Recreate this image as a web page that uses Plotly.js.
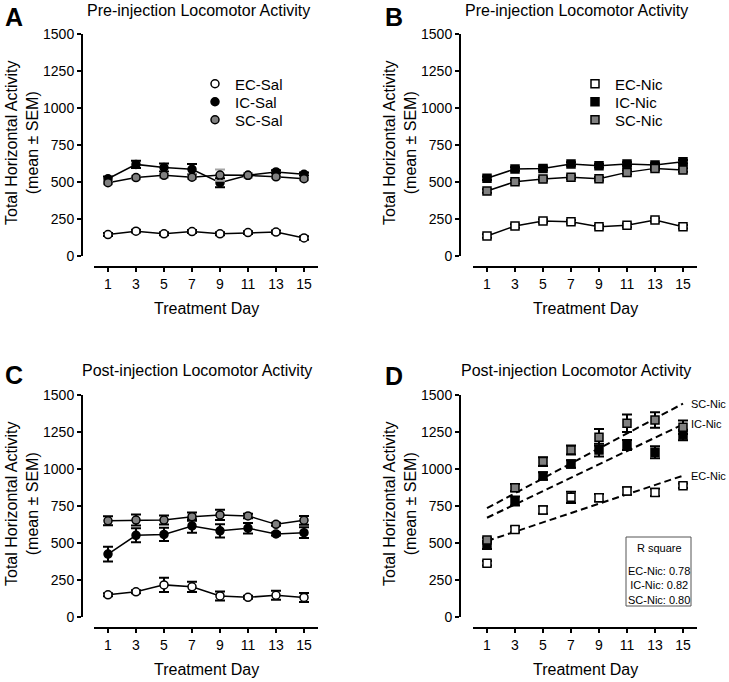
<!DOCTYPE html>
<html>
<head>
<meta charset="utf-8">
<script src="https://cdn.plot.ly/plotly-3.0.1.min.js"></script>
<style>html,body{margin:0;padding:0;background:#fff;}#chart{width:729px;height:682px;}</style>
</head>
<body>
<div id="chart"></div>
<script>
// ---------- data ----------
const days = [1, 3, 5, 7, 9, 11, 13, 15];
const yTicks = [0, 250, 500, 750, 1000, 1250, 1500];

// Panel A: pre-injection, saline groups
const ecSalPre = [145, 168, 150, 165, 150, 158, 162, 122];
const ecSalPreSem = [10, 10, 10, 10, 10, 10, 10, 12];
const icSalPre = [522, 619, 598, 586, 495, 545, 568, 552];
const icSalPreSem = [15, 25, 27, 36, 30, 10, 12, 12];
const scSalPre = [495, 530, 545, 532, 547, 545, 535, 522];
const scSalPreSem = [10, 12, 15, 12, 38, 15, 10, 10];

// Panel B: pre-injection, nicotine groups
const ecNicPre = [135, 203, 236, 232, 198, 207, 243, 198];
const ecNicPreSem = [12, 12, 12, 12, 12, 12, 12, 12];
const icNicPre = [525, 588, 592, 622, 610, 622, 615, 637];
const icNicPreSem = [12, 12, 12, 12, 12, 12, 12, 12];
const scNicPre = [439, 502, 520, 532, 522, 565, 592, 581];
const scNicPreSem = [12, 12, 12, 12, 12, 12, 12, 12];

// Panel C: post-injection, saline groups
const ecSalPost = [150, 170, 217, 204, 142, 133, 147, 132];
const ecSalPostSem = [10, 10, 48, 35, 30, 10, 30, 30];
const icSalPost = [425, 552, 558, 615, 582, 600, 561, 570];
const icSalPostSem = [50, 47, 45, 45, 45, 35, 10, 37];
const scSalPost = [650, 655, 655, 678, 690, 683, 626, 653];
const scSalPostSem = [30, 37, 30, 28, 35, 15, 10, 30];

// Panel D: post-injection, nicotine groups
const ecNicPost = [363, 592, 723, 809, 806, 851, 842, 887];
const ecNicPostSem = [15, 20, 25, 38, 25, 25, 25, 15];
const icNicPost = [486, 784, 953, 1034, 1128, 1162, 1113, 1230];
const icNicPostSem = [27, 30, 25, 25, 43, 34, 41, 36];
const scNicPost = [520, 874, 1050, 1128, 1214, 1309, 1331, 1282];
const scNicPostSem = [15, 25, 30, 30, 56, 59, 53, 45];

const rSquareLabels = ['EC-Nic: 0.78', 'IC-Nic: 0.82', 'SC-Nic: 0.80'];

// ---------- helpers ----------
const W = 729, H = 682;
const FONT = 'Arial, "Liberation Sans", Helvetica, sans-serif';
const px = x => x / W;
const py = y => 1 - y / H;
const GRAY = '#808080';

const panels = [
  {id: '',  xdom: [94, 318],  yTop: 34,  yBot: 256, xLine: 267, yLine: 82},
  {id: '2', xdom: [473, 697], yTop: 34,  yBot: 256, xLine: 267, yLine: 460},
  {id: '3', xdom: [94, 318],  yTop: 395, yBot: 617, xLine: 628, yLine: 82},
  {id: '4', xdom: [473, 697], yTop: 395, yBot: 617, xLine: 628, yLine: 460}
];

const layout = {
  width: W, height: H,
  margin: {l: 0, r: 0, t: 0, b: 0},
  paper_bgcolor: '#fff', plot_bgcolor: 'rgba(0,0,0,0)',
  font: {family: FONT, color: '#000'},
  showlegend: true,
  annotations: [], shapes: []
};

panels.forEach(p => {
  layout['xaxis' + p.id] = {
    domain: [px(p.xdom[0]), px(p.xdom[1])], range: [0, 16],
    anchor: 'free', position: py(p.xLine),
    tickmode: 'array', tickvals: days, ticktext: days.map(String),
    ticks: 'outside', ticklen: 4, tickwidth: 1.5, tickcolor: '#000',
    showline: true, linewidth: 2, linecolor: '#000',
    showgrid: false, zeroline: false, fixedrange: true,
    tickfont: {family: FONT, size: 14, color: '#000'}
  };
  layout['yaxis' + p.id] = {
    domain: [py(p.yBot), py(p.yTop)], range: [0, 1500],
    anchor: 'free', position: px(p.yLine),
    tickmode: 'array', tickvals: yTicks, ticktext: yTicks.map(String),
    ticks: 'outside', ticklen: 4, tickwidth: 1.5, tickcolor: '#000',
    showline: true, linewidth: 2, linecolor: '#000',
    showgrid: false, zeroline: false, fixedrange: true,
    tickfont: {family: FONT, size: 14, color: '#000'}
  };
});

const lineTraces = [];
const markerTraces = [];

function series(pid, name, ys, sem, symbol, fill, errColor, legendId, connect) {
  const xa = 'x' + pid, ya = 'y' + pid;
  if (connect) {
    lineTraces.push({
      type: 'scatter', mode: 'lines', x: days, y: ys, xaxis: xa, yaxis: ya,
      line: {color: '#000', width: 1.5}, showlegend: false, hoverinfo: 'skip'
    });
  }
  const t = {
    type: 'scatter', mode: 'markers', name: name, x: days, y: ys, xaxis: xa, yaxis: ya,
    marker: {symbol: symbol, size: 8, color: fill, line: {color: '#000', width: 1.5}},
    error_y: {type: 'data', array: sem, visible: true, color: errColor, thickness: 2, width: 5},
    showlegend: !!legendId
  };
  if (legendId) t.legend = legendId;
  markerTraces.push(t);
}

// Panel A
series('', 'EC-Sal', ecSalPre, ecSalPreSem, 'circle', '#fff', '#000', 'legend', true);
series('', 'IC-Sal', icSalPre, icSalPreSem, 'circle', '#000', '#000', 'legend2', true);
series('', 'SC-Sal', scSalPre, scSalPreSem, 'circle', GRAY, '#a6a6a6', 'legend3', true);
// Panel B
series('2', 'EC-Nic', ecNicPre, ecNicPreSem, 'square', '#fff', '#000', 'legend4', true);
series('2', 'IC-Nic', icNicPre, icNicPreSem, 'square', '#000', '#000', 'legend5', true);
series('2', 'SC-Nic', scNicPre, scNicPreSem, 'square', GRAY, '#000', 'legend6', true);
// Panel C
series('3', 'EC-Sal', ecSalPost, ecSalPostSem, 'circle', '#fff', '#000', null, true);
series('3', 'IC-Sal', icSalPost, icSalPostSem, 'circle', '#000', '#000', null, true);
series('3', 'SC-Sal', scSalPost, scSalPostSem, 'circle', GRAY, '#000', null, true);
// Panel D (points only + linear fits)
series('4', 'EC-Nic', ecNicPost, ecNicPostSem, 'square', '#fff', '#000', null, false);
series('4', 'IC-Nic', icNicPost, icNicPostSem, 'square', '#000', '#000', null, false);
series('4', 'SC-Nic', scNicPost, scNicPostSem, 'square', GRAY, '#000', null, false);

function linFit(xs, ys) {
  const n = xs.length;
  const mx = xs.reduce((a, b) => a + b, 0) / n;
  const my = ys.reduce((a, b) => a + b, 0) / n;
  let sxy = 0, sxx = 0;
  for (let i = 0; i < n; i++) { sxy += (xs[i] - mx) * (ys[i] - my); sxx += (xs[i] - mx) ** 2; }
  const b = sxy / sxx, a = my - b * mx;
  return x => a + b * x;
}
const fitTraces = [];
[['EC-Nic', ecNicPost], ['IC-Nic', icNicPost], ['SC-Nic', scNicPost]].forEach(([nm, ys]) => {
  const f = linFit(days, ys);
  const x0 = days[0], x1 = days[days.length - 1];
  fitTraces.push({
    type: 'scatter', mode: 'lines', x: [x0, x1], y: [f(x0), f(x1)], xaxis: 'x4', yaxis: 'y4',
    line: {color: '#000', width: 2, dash: '7px,4px'}, showlegend: false, hoverinfo: 'skip'
  });
  layout.annotations.push({
    xref: 'x4', yref: 'y4', x: x1, y: f(x1), xanchor: 'left', yanchor: 'middle', xshift: 6,
    text: nm, showarrow: false, font: {family: FONT, size: 11, color: '#000'}
  });
});

// legends: one per entry so row spacing matches the reference
const legendRows = [84, 102, 120];
const legendX = [195, 575];
const legendIds = ['legend', 'legend2', 'legend3', 'legend4', 'legend5', 'legend6'];
legendIds.forEach((id, i) => {
  layout[id] = {
    x: px(legendX[Math.floor(i / 3)]), y: py(legendRows[i % 3]), xanchor: 'left', yanchor: 'middle',
    bgcolor: 'rgba(0,0,0,0)', borderwidth: 0, itemwidth: 30,
    font: {family: FONT, size: 15, color: '#000'}
  };
});

// text annotations
const ann = (x, y, text, size, extra) => Object.assign({
  xref: 'paper', yref: 'paper', x: px(x), y: py(y), text: text, showarrow: false,
  xanchor: 'center', yanchor: 'middle', font: {family: FONT, size: size, color: '#000'}
}, extra || {});

const letters = [['A', 14, 17], ['B', 394, 17], ['C', 14, 375], ['D', 394, 376]];
letters.forEach(([t, x, y]) => layout.annotations.push(ann(x, y, '<b>' + t + '</b>', 25)));

const titles = [['Pre-injection Locomotor Activity', 198, 11], ['Pre-injection Locomotor Activity', 576, 11],
                ['Post-injection Locomotor Activity', 197, 370], ['Post-injection Locomotor Activity', 576, 370]];
titles.forEach(([t, x, y]) => layout.annotations.push(ann(x, y, t, 16)));

panels.forEach(p => {
  const yc = (p.yTop + p.yBot) / 2 - 2;
  layout.annotations.push(ann(p.yLine - 60, yc, 'Total Horizontal Activity<br>(mean ± SEM)', 16, {textangle: -90}));
  layout.annotations.push(ann((p.xdom[0] + p.xdom[1]) / 2, p.xLine + 41, 'Treatment Day', 16));
});

// R square box
layout.shapes.push({type: 'rect', xref: 'paper', yref: 'paper', x0: px(626), x1: px(691), y0: py(606), y1: py(537),
  line: {color: '#555', width: 1}, fillcolor: 'rgba(255,255,255,0)'});
layout.annotations.push(ann(659, 548, 'R square', 11));
layout.annotations.push(ann(659, 585, rSquareLabels.join('<br>'), 11));

const data = lineTraces.concat(fitTraces, markerTraces);
Plotly.newPlot('chart', data, layout, {displayModeBar: false, staticPlot: true});
</script>
</body>
</html>
